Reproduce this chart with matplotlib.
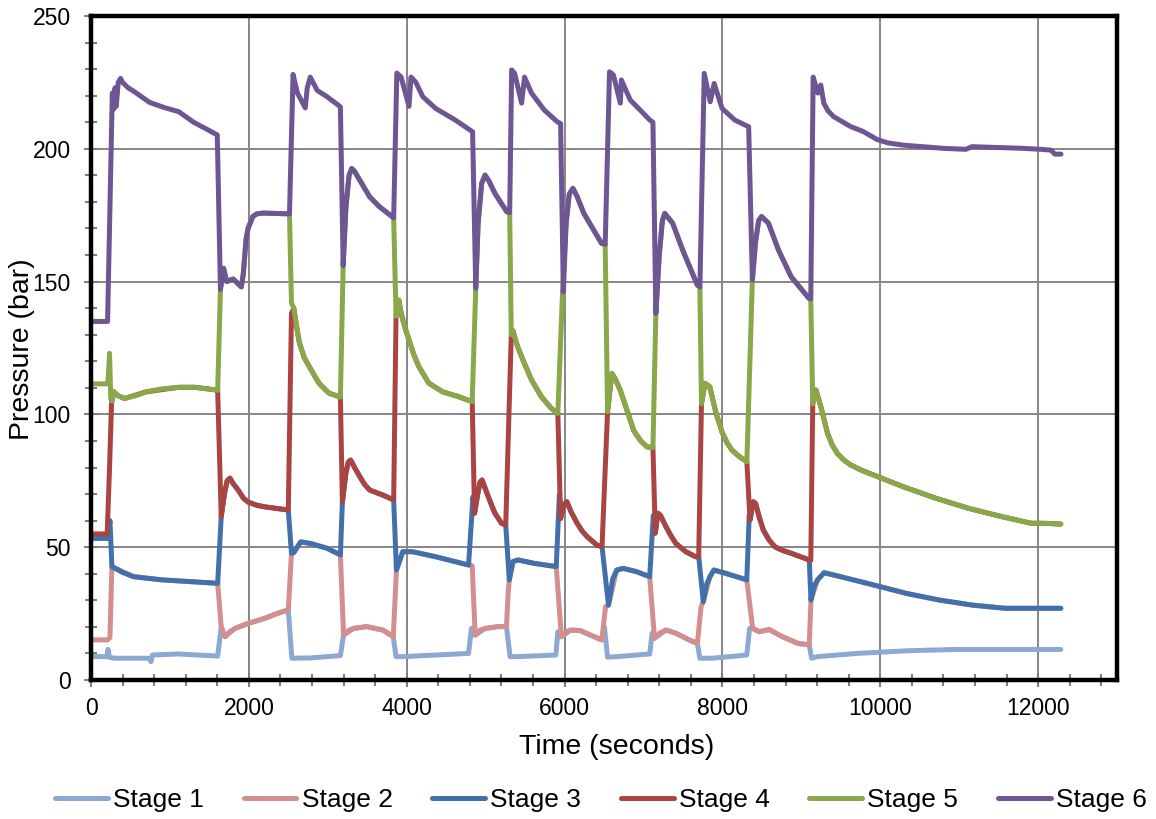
import matplotlib.pyplot as plt
from matplotlib.ticker import MultipleLocator

plt.rcParams['font.family'] = ['Liberation Sans', 'DejaVu Sans']

# (time in s, pressure in bar)
stage1 = [(0, 8.8), (200, 8.8), (215, 11.5), (235, 8.5), (300, 8.2), (740, 8.2), (760, 6.9), (780, 9.4),
          (1100, 9.8), (1605, 9.0), (1650, 20), (1698, 16.3), (1823, 19.4), (1990, 21.3), (2199, 23.2),
          (2365, 25.1), (2500, 26.4), (2545, 8.2), (2782, 8.3), (3160, 9.2), (3200, 16.9), (3325, 19.4),
          (3491, 20.1), (3700, 18.8), (3830, 16.3), (3865, 8.8), (3950, 8.8), (4367, 9.4), (4784, 10),
          (4820, 19.4), (4868, 16.9), (4993, 19.4), (5159, 20.1), (5264, 20.1), (5310, 8.8), (5400, 8.8),
          (5890, 9.4), (5915, 18.2), (5960, 16.3), (6078, 18.8), (6200, 18.6), (6328, 16.9), (6473, 15.1),
          (6505, 20), (6545, 8.6), (6661, 8.8), (7079, 9.8), (7110, 17.6), (7140, 15.7), (7286, 18.8),
          (7411, 17.6), (7579, 15.1), (7683, 13.8), (7715, 8.2), (7871, 8.2), (8309, 9.4), (8345, 19.4),
          (8384, 19.4), (8467, 18.2), (8592, 19), (8759, 16.3), (8956, 13.8), (9101, 13.2), (9130, 8.2),
          (9206, 8.8), (9706, 10), (10332, 11), (10957, 11.5), (12288, 11.5)]

stage2 = [(0, 15.1), (210, 15.1), (240, 16), (265, 42.7), (540, 38.9), (900, 37.7), (1605, 36.4),
          (1650, 20), (1698, 16.3), (1760, 18.2), (1823, 19.4), (1990, 21.3), (2199, 23.2), (2365, 25.1),
          (2500, 26.4), (2540, 47.7), (2570, 48), (2657, 52), (2782, 51.4), (2991, 49.6), (3160, 47.1),
          (3200, 16.9), (3260, 18.6), (3325, 19.4), (3491, 20.1), (3700, 18.8), (3830, 16.3), (3870, 41.4),
          (3950, 48.3), (4075, 48.3), (4367, 46.4), (4784, 43.3), (4830, 43), (4868, 16.9), (4930, 18.8),
          (4993, 19.4), (5159, 20.1), (5264, 20.1), (5285, 32.6), (5300, 37.7), (5347, 44.6), (5410, 45.2),
          (5618, 43.9), (5895, 42.7), (5960, 16.3), (6020, 18.2), (6078, 18.8), (6200, 18.6), (6328, 16.9),
          (6473, 15.1), (6520, 27.6), (6557, 28.2), (6661, 41.4), (6745, 42), (6911, 40.8), (7079, 38.9),
          (7140, 15.7), (7210, 17.8), (7286, 18.8), (7411, 17.6), (7579, 15.1), (7683, 13.8), (7730, 27.6),
          (7758, 29.5), (7842, 38.9), (7892, 41.4), (8037, 40.2), (8309, 37.7), (8384, 19.4), (8467, 18.2),
          (8592, 19), (8759, 16.3), (8956, 13.8), (9101, 13.2), (9122, 30.1), (9206, 37.7), (9289, 40.4),
          (9498, 38.9), (9914, 35.8), (10332, 32.6), (10749, 30.1), (11166, 28.2), (11583, 27),
          (12000, 27), (12288, 27)]

stage3 = [(0, 53.3), (210, 53.3), (240, 60), (265, 42.7), (400, 40.5), (540, 38.9), (900, 37.7),
          (1605, 36.4), (1650, 61.5), (1690, 70), (1725, 75), (1760, 76), (1800, 74), (1865, 71.5),
          (1930, 68.5), (1990, 67), (2100, 65.8), (2200, 65.2), (2500, 64), (2540, 47.7), (2570, 48),
          (2657, 52), (2782, 51.4), (2991, 49.6), (3160, 47.1), (3185, 67), (3230, 78), (3260, 82),
          (3290, 82.8), (3340, 80), (3407, 76.5), (3470, 73.5), (3532, 71.5), (3700, 69.6), (3835, 67.8),
          (3870, 41.4), (3950, 48.3), (4075, 48.3), (4367, 46.4), (4784, 43.3), (4840, 69), (4860, 62.8),
          (4900, 70), (4930, 74.5), (4955, 75.3), (4990, 72.5), (5034, 69), (5080, 65.5), (5118, 62.8),
          (5202, 59), (5255, 58.4), (5300, 37.7), (5347, 44.6), (5410, 45.2), (5618, 43.9), (5895, 42.7),
          (5935, 70), (5950, 60.8), (5990, 66), (6030, 67.1), (6080, 63.5), (6160, 59), (6220, 56.2),
          (6285, 54), (6410, 50.8), (6475, 50.2), (6557, 28.2), (6610, 38), (6661, 41.4), (6745, 42),
          (6911, 40.8), (7079, 38.9), (7125, 62), (7150, 55.3), (7182, 62.8), (7215, 62), (7286, 57.7),
          (7350, 54.2), (7411, 51.4), (7536, 48.3), (7661, 46.4), (7700, 46.5), (7758, 29.5), (7800, 36),
          (7842, 38.9), (7892, 41.4), (8037, 40.2), (8309, 37.7), (8340, 62), (8350, 60.2), (8392, 67.1),
          (8420, 66.5), (8470, 61), (8518, 56.5), (8590, 52.8), (8663, 50.2), (8760, 48.8), (8872, 47.7),
          (9101, 45.2), (9122, 30.1), (9165, 35.5), (9206, 37.7), (9289, 40.4), (9498, 38.9), (9914, 35.8),
          (10332, 32.6), (10749, 30.1), (11166, 28.2), (11583, 27), (12000, 27), (12288, 27)]

stage4 = [(0, 55), (205, 55), (235, 80), (260, 104), (290, 108.5), (345, 107), (425, 106), (700, 108.5),
          (1110, 110.2), (1320, 110.2), (1580, 109.2), (1605, 109), (1650, 61.5), (1690, 70), (1725, 75),
          (1760, 76), (1800, 74), (1865, 71.5), (1930, 68.5), (1990, 67), (2100, 65.8), (2200, 65.2),
          (2500, 64), (2540, 138), (2570, 140), (2600, 134), (2640, 127), (2700, 121.5), (2765, 118),
          (2890, 111.7), (3015, 108), (3160, 106.5), (3185, 67), (3230, 78), (3260, 82), (3290, 82.8),
          (3340, 80), (3407, 76.5), (3470, 73.5), (3532, 71.5), (3700, 69.6), (3835, 67.8), (3865, 137),
          (3900, 143), (3930, 138), (3980, 132.5), (4029, 128), (4090, 122.5), (4154, 118), (4279, 111.8),
          (4455, 108.5), (4655, 106.7), (4830, 104.8), (4860, 62.8), (4900, 70), (4930, 74.5),
          (4955, 75.3), (4990, 72.5), (5034, 69), (5080, 65.5), (5118, 62.8), (5202, 59), (5255, 58.4),
          (5325, 130), (5345, 131.5), (5400, 126), (5456, 121.7), (5581, 113), (5706, 106.7),
          (5831, 102.3), (5915, 100.4), (5950, 60.8), (5990, 66), (6030, 67.1), (6080, 63.5), (6160, 59),
          (6220, 56.2), (6285, 54), (6410, 50.8), (6475, 50.2), (6545, 101), (6600, 115.4), (6640, 113.5),
          (6707, 109), (6790, 101.7), (6875, 94), (6960, 90.2), (7045, 87.8), (7120, 87.5), (7150, 55.3),
          (7182, 62.8), (7215, 62), (7286, 57.7), (7350, 54.2), (7411, 51.4), (7536, 48.3), (7661, 46.4),
          (7700, 46.5), (7735, 104), (7780, 111.7), (7840, 110.4), (7920, 100.4), (8000, 93), (8060, 89.3),
          (8120, 86.6), (8210, 84.2), (8310, 82.2), (8350, 60.2), (8392, 67.1), (8420, 66.5), (8470, 61),
          (8518, 56.5), (8590, 52.8), (8663, 50.2), (8760, 48.8), (8872, 47.7), (9101, 45.2), (9120, 45),
          (9145, 104), (9185, 109.2), (9247, 103), (9331, 93), (9390, 88.6), (9456, 85.3), (9540, 82.8),
          (9623, 81), (9760, 79), (9914, 77.2), (10289, 72.8), (10707, 68.4), (11124, 64.6),
          (11541, 61.5), (11916, 59), (12084, 59), (12288, 58.7)]

stage5 = [(0, 111.5), (205, 111.5), (215, 112), (235, 123), (250, 106), (265, 105), (290, 108.5),
          (345, 107), (425, 106), (560, 107), (700, 108.5), (900, 109.6), (1110, 110.2), (1320, 110.2),
          (1580, 109.2), (1605, 109), (1640, 147), (1680, 155), (1720, 150), (1800, 151), (1870, 149),
          (1905, 148), (1930, 153), (1965, 166), (1990, 170), (2050, 174.5), (2100, 175.5), (2180, 175.8),
          (2515, 175.5), (2540, 142), (2570, 140), (2600, 134), (2640, 127), (2700, 121.5), (2765, 118),
          (2890, 111.7), (3015, 108), (3160, 106.5), (3195, 156), (3230, 178), (3270, 190), (3303, 192.6),
          (3340, 191.5), (3404, 188.3), (3529, 182), (3654, 178.2), (3835, 174), (3865, 137), (3900, 143),
          (3930, 138), (3980, 132.5), (4029, 128), (4090, 122.5), (4154, 118), (4279, 111.8),
          (4455, 108.5), (4655, 106.7), (4830, 104.8), (4875, 147.5), (4905, 172), (4950, 187),
          (4993, 190.1), (5040, 188), (5118, 183.2), (5268, 176.3), (5305, 176), (5325, 130),
          (5345, 131.5), (5400, 126), (5456, 121.7), (5581, 113), (5706, 106.7), (5831, 102.3),
          (5915, 100.4), (5975, 146.2), (6020, 172), (6060, 183), (6106, 185.1), (6160, 182), (6244, 175.7),
          (6469, 164.4), (6515, 164), (6545, 101), (6600, 115.4), (6640, 113.5), (6707, 109), (6790, 101.7),
          (6875, 94), (6960, 90.2), (7045, 87.8), (7120, 87.5), (7157, 138), (7200, 160), (7240, 173),
          (7270, 175.7), (7370, 172), (7495, 162), (7683, 148.7), (7715, 148), (7735, 104), (7780, 111.7),
          (7840, 110.4), (7920, 100.4), (8000, 93), (8060, 89.3), (8120, 86.6), (8210, 84.2), (8310, 82.2),
          (8380, 150.6), (8420, 165), (8460, 173), (8496, 174.5), (8584, 172), (8709, 162), (8872, 151.8),
          (9097, 143.7), (9120, 143.5), (9145, 104), (9185, 109.2), (9247, 103), (9331, 93), (9390, 88.6),
          (9456, 85.3), (9540, 82.8), (9623, 81), (9760, 79), (9914, 77.2), (10289, 72.8), (10707, 68.4),
          (11124, 64.6), (11541, 61.5), (11916, 59), (12084, 59), (12288, 58.7)]

stage6 = [(0, 135), (210, 135), (270, 221), (290, 215), (305, 223), (320, 216), (345, 225), (375, 226.5),
          (400, 225), (470, 223), (550, 221.5), (740, 217.5), (930, 215.5), (1110, 214), (1300, 210),
          (1490, 207), (1600, 205.2), (1640, 147), (1680, 155), (1720, 150), (1800, 151), (1870, 149),
          (1905, 148), (1930, 153), (1965, 166), (1990, 170), (2050, 174.5), (2100, 175.5), (2180, 175.8),
          (2515, 175.5), (2560, 228), (2615, 221), (2715, 215.4), (2740, 223), (2778, 227), (2866, 222),
          (2991, 219.6), (3160, 215.8), (3195, 156), (3230, 178), (3270, 190), (3303, 192.6), (3340, 191.5),
          (3404, 188.3), (3529, 182), (3654, 178.2), (3835, 174), (3875, 228.5), (3929, 227), (4029, 216),
          (4054, 227), (4117, 225), (4204, 219.6), (4367, 215.2), (4617, 210.8), (4835, 206.4),
          (4875, 147.5), (4905, 172), (4950, 187), (4993, 190.1), (5040, 188), (5118, 183.2), (5268, 176.3),
          (5305, 176), (5330, 229.7), (5368, 228.4), (5456, 217.2), (5493, 227), (5581, 221), (5743, 214.6),
          (5906, 210.2), (5950, 209.5), (5985, 146.2), (6020, 172), (6060, 183), (6106, 185.1),
          (6160, 182), (6244, 175.7), (6469, 164.4), (6515, 164), (6570, 229), (6619, 227.8), (6707, 217.2),
          (6720, 225.9), (6832, 218.4), (7082, 210.8), (7120, 210), (7157, 138), (7200, 160), (7240, 173),
          (7270, 175.7), (7370, 172), (7495, 162), (7683, 148.7), (7715, 148), (7770, 228.4),
          (7846, 217.7), (7896, 224.6), (7996, 215.2), (8158, 210.8), (8333, 208.3), (8380, 150.6),
          (8420, 165), (8460, 173), (8496, 174.5), (8584, 172), (8709, 162), (8872, 151.8), (9097, 143.7),
          (9120, 143.5), (9150, 227), (9210, 221), (9247, 224), (9285, 217.2), (9340, 214.2),
          (9410, 212.1), (9623, 208.4), (9785, 206.5), (9960, 203.5), (10100, 202.2), (10286, 201.4),
          (10786, 200.2), (11086, 199.8), (11161, 200.8), (11787, 200.2), (12037, 199.8), (12163, 199.5),
          (12213, 198), (12290, 198)]

series = [stage1, stage2, stage3, stage4, stage5, stage6]
labels = ['Stage 1', 'Stage 2', 'Stage 3', 'Stage 4', 'Stage 5', 'Stage 6']
colors = ['#8DA8D2', '#D48E8D', '#4171AD', '#AA4442', '#88A84A', '#6E5593']

fig = plt.figure(figsize=(11.56, 8.19), dpi=100)
ax = fig.add_axes([91 / 1156, 1 - 680 / 819, (1117 - 91) / 1156, (680 - 16) / 819])

for data, label, color in zip(series, labels, colors):
    t, p = zip(*data)
    ax.plot(t, p, color=color, lw=3.6, label=label,
            solid_joinstyle='round', solid_capstyle='round')

ax.set_xlim(0, 13000)
ax.set_ylim(0, 250)
ax.xaxis.set_major_locator(MultipleLocator(2000))
ax.xaxis.set_minor_locator(MultipleLocator(400))
ax.yaxis.set_major_locator(MultipleLocator(50))
ax.yaxis.set_minor_locator(MultipleLocator(10))
ax.grid(True, which='major', color='#868686', lw=1.4)
ax.set_axisbelow(True)

ax.tick_params(which='major', direction='inout', length=10, width=1.5, color='#7f7f7f', labelsize=16.5)
ax.tick_params(axis='y', which='major', pad=9.5)
ax.tick_params(axis='x', which='major', pad=7)
ax.tick_params(which='minor', direction='inout', length=8, width=1.5, color='#7f7f7f')
for s in ax.spines.values():
    s.set_linewidth(3.2)
    s.set_color('black')

fig.text(22 / 1156, 1 - 349 / 819, 'Pressure (bar)', rotation=90, ha='center', va='center', fontsize=20.5)
fig.text(617 / 1156, 1 - 747 / 819, 'Time (seconds)', ha='center', va='center', fontsize=20.5)

fig.legend(loc='center', bbox_to_anchor=(601 / 1156, 1 - 800 / 819), ncol=6, frameon=False,
           fontsize=19, handlelength=2.0, handletextpad=0.2, columnspacing=1.5,
           borderaxespad=0, borderpad=0)

fig.savefig('out.png', dpi=100)
